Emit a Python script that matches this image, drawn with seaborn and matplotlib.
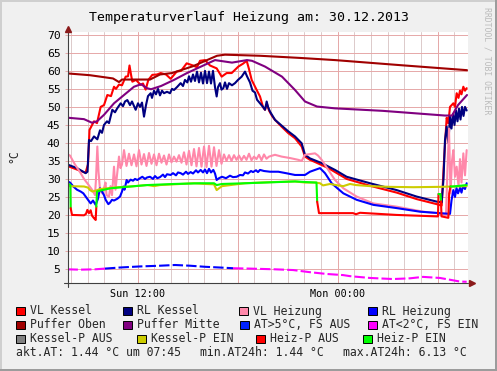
import numpy as np
import pandas as pd
import seaborn as sns
import matplotlib.pyplot as plt
from matplotlib.patches import Rectangle

sns.set_theme(style="white")
plt.rcParams['font.family'] = ['DejaVu Sans Mono', 'DejaVu Sans']

# time axis: hours since Sun 00:00 (24h window, 07:47 Sun -> 07:47 Mon)
x_ticks = [12, 24]
x_ticklabels = ["Sun 12:00", "Mon 00:00"]
y_ticks = list(range(5, 71, 5))

# (hour, °C)
vl_kessel = [(7.79, 33.6), (8.36, 32.6), (8.87, 31.7), (9.02, 34.0), (9.11, 43.6), (9.38, 46.0),
             (9.56, 45.5), (9.78, 50.0), (9.98, 50.5), (10.18, 53.3), (10.40, 53.0), (10.58, 55.6),
             (10.70, 55.0), (10.88, 56.2), (11.06, 56.0), (11.28, 58.4), (11.42, 58.5), (11.51, 61.5),
             (11.60, 59.0), (11.68, 57.0), (11.90, 57.5), (12.18, 56.1), (12.32, 56.5), (12.48, 54.8),
             (12.64, 57.5), (12.88, 58.9), (13.16, 59.0), (13.38, 59.4), (13.70, 59.0), (13.98, 57.8),
             (14.34, 59.8), (14.60, 60.0), (14.94, 62.1), (15.32, 61.5), (15.56, 61.0), (15.74, 62.8),
             (16.04, 63.0), (16.34, 61.5), (16.74, 60.7), (17.04, 58.4), (17.34, 59.4), (17.64, 59.4),
             (18.04, 61.2), (18.32, 62.0), (18.54, 62.8), (18.68, 60.5), (18.84, 57.5), (19.14, 54.7),
             (19.34, 52.9), (19.52, 50.0), (19.64, 49.2), (19.76, 50.8), (19.88, 49.0), (20.06, 47.5),
             (20.24, 46.4), (20.64, 44.5), (21.04, 42.7), (21.44, 41.3), (21.84, 39.0), (22.04, 36.2),
             (22.34, 35.3), (22.64, 34.7), (23.44, 33.0), (24.54, 30.0), (25.94, 28.1), (27.54, 26.2),
             (28.74, 24.4), (29.94, 23.0), (30.24, 22.6), (30.38, 35.0), (30.54, 47.0), (30.64, 45.5),
             (30.74, 50.0), (30.94, 51.0), (31.04, 50.0), (31.14, 53.8), (31.25, 52.5), (31.34, 54.5),
             (31.43, 53.5), (31.54, 55.6), (31.64, 54.5), (31.74, 55.2)]

rl_kessel = [(7.79, 34.0), (8.36, 33.0), (8.88, 31.6), (8.99, 32.0), (9.08, 40.8), (9.20, 40.5),
             (9.38, 41.8), (9.58, 41.0), (9.74, 43.5), (9.86, 42.8), (9.98, 45.0), (10.16, 46.0),
             (10.28, 45.5), (10.48, 49.2), (10.64, 48.5), (10.76, 49.5), (10.98, 51.0), (11.12, 50.2),
             (11.24, 51.5), (11.38, 51.9), (11.54, 50.5), (11.66, 51.5), (11.88, 49.2), (12.02, 51.0),
             (12.14, 50.0), (12.26, 51.2), (12.38, 47.3), (12.50, 50.5), (12.62, 53.0), (12.78, 53.8),
             (12.86, 52.5), (12.98, 54.5), (13.10, 53.5), (13.22, 55.0), (13.34, 53.2), (13.46, 54.5),
             (13.58, 53.8), (13.76, 54.2), (13.94, 53.8), (14.06, 55.0), (14.18, 54.7), (14.36, 55.5),
             (14.58, 56.6), (14.72, 55.8), (14.84, 57.5), (14.98, 56.8), (15.08, 58.5), (15.20, 57.0),
             (15.32, 59.0), (15.44, 57.2), (15.56, 59.8), (15.68, 56.8), (15.80, 59.5), (15.92, 56.5),
             (16.04, 60.0), (16.16, 56.6), (16.28, 59.8), (16.40, 56.5), (16.52, 60.0), (16.64, 55.5),
             (16.74, 52.9), (16.82, 55.5), (16.94, 56.6), (17.03, 54.8), (17.14, 55.2), (17.24, 56.8),
             (17.36, 55.0), (17.48, 56.6), (17.66, 56.0), (17.84, 56.6), (18.02, 57.5), (18.24, 58.4),
             (18.44, 59.8), (18.56, 58.5), (18.74, 56.8), (18.89, 54.5), (19.04, 54.0), (19.16, 52.0),
             (19.34, 51.0), (19.52, 50.0), (19.64, 49.2), (19.74, 51.5), (19.82, 50.0), (19.94, 48.7),
             (20.24, 46.4), (20.64, 44.8), (21.04, 43.2), (21.44, 41.8), (21.84, 39.9), (22.04, 36.7),
             (22.34, 35.7), (23.04, 34.4), (23.84, 32.5), (24.54, 30.6), (25.94, 28.8), (27.54, 26.9),
             (28.74, 25.1), (29.94, 23.7), (30.24, 23.5), (30.35, 30.0), (30.44, 40.8), (30.54, 44.5),
             (30.64, 40.0), (30.74, 47.3), (30.83, 44.0), (30.92, 48.0), (31.01, 45.0), (31.10, 49.0),
             (31.19, 46.0), (31.28, 49.5), (31.37, 46.5), (31.46, 50.0), (31.55, 47.5), (31.64, 50.0),
             (31.74, 49.0)]

vl_heizung = [(7.79, 36.8), (7.94, 36.5), (8.08, 35.3), (8.24, 34.0), (8.58, 31.6), (8.78, 30.0),
              (8.98, 28.8), (9.28, 26.9), (9.44, 25.5), (9.50, 30.0), (9.58, 39.0), (9.65, 32.0),
              (9.74, 27.0), (9.88, 26.0), (9.98, 27.5), (10.07, 29.0), (10.13, 25.5), (10.28, 25.1),
              (10.37, 28.0), (10.46, 25.5), (10.58, 33.4), (10.67, 27.0), (10.76, 31.0), (10.88, 36.2),
              (10.97, 33.0), (11.06, 34.0), (11.18, 38.0), (11.33, 33.6), (11.48, 37.0), (11.63, 33.8),
              (11.78, 36.8), (11.93, 33.5), (12.08, 38.0), (12.23, 34.0), (12.38, 36.9), (12.53, 33.6),
              (12.68, 37.2), (12.83, 34.2), (12.98, 36.8), (13.13, 33.8), (13.28, 37.0), (13.43, 34.5),
              (13.58, 36.5), (13.73, 34.0), (13.88, 36.8), (14.03, 34.6), (14.18, 36.2), (14.33, 34.8),
              (14.48, 36.6), (14.63, 34.5), (14.78, 37.4), (14.93, 34.0), (15.08, 37.8), (15.23, 33.8),
              (15.38, 38.3), (15.53, 33.5), (15.68, 38.6), (15.83, 33.4), (15.98, 39.0), (16.13, 33.3),
              (16.28, 39.2), (16.43, 33.4), (16.58, 38.8), (16.73, 33.6), (16.88, 38.0), (17.03, 34.2),
              (17.18, 36.8), (17.33, 35.0), (17.48, 36.6), (17.63, 35.0), (17.78, 36.6), (17.93, 35.3),
              (18.08, 36.5), (18.23, 35.2), (18.38, 36.4), (18.53, 35.3), (18.68, 37.0), (18.83, 35.2),
              (18.98, 36.2), (19.13, 35.5), (19.28, 36.7), (19.43, 35.2), (19.58, 36.8), (19.73, 35.6),
              (19.88, 36.2), (20.24, 36.7), (20.64, 36.2), (21.14, 35.8), (21.64, 35.3), (21.84, 35.0),
              (22.04, 36.7), (22.64, 37.1), (22.82, 36.5), (23.04, 35.3), (23.44, 32.5), (23.84, 29.7),
              (24.34, 27.4), (25.14, 25.1), (26.14, 23.2), (27.54, 22.3), (29.14, 20.9), (29.94, 20.5),
              (30.20, 20.2), (30.50, 20.0), (30.59, 33.0), (30.68, 44.0), (30.77, 26.0), (30.86, 35.0),
              (30.94, 38.0), (31.04, 30.6), (31.14, 33.4), (31.25, 28.0), (31.34, 35.5), (31.43, 29.0),
              (31.54, 37.1), (31.64, 31.0), (31.74, 38.0)]

rl_heizung = [(7.79, 29.3), (7.94, 29.0), (8.14, 27.9), (8.36, 27.0), (8.58, 26.5), (8.74, 26.0),
              (8.88, 25.1), (9.02, 24.2), (9.18, 23.2), (9.32, 24.0), (9.48, 22.8), (9.62, 24.5),
              (9.74, 27.4), (9.86, 26.5), (9.98, 25.5), (10.08, 24.2), (10.16, 23.6), (10.24, 23.0),
              (10.34, 23.4), (10.46, 24.2), (10.58, 24.0), (10.78, 24.5), (10.94, 25.1), (11.06, 26.5),
              (11.14, 27.9), (11.21, 27.0), (11.34, 29.7), (11.42, 29.0), (11.58, 29.8), (11.72, 29.5),
              (11.84, 30.0), (11.98, 29.7), (12.14, 30.2), (12.28, 30.6), (12.44, 30.0), (12.56, 30.4),
              (12.74, 30.6), (12.92, 30.0), (13.04, 30.8), (13.18, 30.2), (13.34, 30.5), (13.52, 31.2),
              (13.64, 30.5), (13.76, 31.3), (13.98, 31.1), (14.12, 31.6), (14.30, 31.0), (14.42, 31.8),
              (14.58, 31.6), (14.72, 31.2), (14.90, 32.0), (15.02, 31.4), (15.18, 31.9), (15.32, 31.5),
              (15.50, 32.4), (15.62, 31.8), (15.78, 32.5), (15.92, 31.8), (16.04, 32.6), (16.16, 31.6),
              (16.28, 32.8), (16.40, 31.8), (16.54, 32.5), (16.64, 31.5), (16.74, 29.7), (16.88, 30.2),
              (17.06, 30.6), (17.30, 30.2), (17.54, 30.9), (17.72, 30.5), (17.94, 30.6), (18.14, 31.1),
              (18.32, 31.0), (18.44, 31.8), (18.62, 31.5), (18.80, 32.2), (18.92, 31.9), (19.10, 32.4),
              (19.22, 31.9), (19.34, 32.5), (19.58, 32.2), (19.94, 32.0), (20.44, 32.0), (20.90, 31.6),
              (21.44, 31.1), (22.04, 31.1), (22.34, 32.0), (22.64, 32.5), (22.94, 33.0), (23.24, 31.6),
              (23.64, 28.8), (23.96, 27.5), (24.34, 26.0), (25.14, 24.2), (26.14, 22.8), (27.54, 21.9),
              (28.94, 20.9), (30.14, 20.5), (30.74, 20.3), (30.83, 24.0), (30.94, 26.9), (31.04, 25.0),
              (31.13, 27.5), (31.22, 26.0), (31.34, 27.5), (31.43, 26.2), (31.52, 28.0), (31.64, 27.2),
              (31.74, 28.8)]

puffer_oben = [(7.79, 59.3), (9.14, 58.8), (10.52, 57.9), (10.88, 56.9), (11.06, 57.6), (12.74, 57.6),
               (13.34, 59.0), (14.06, 59.4), (15.32, 61.3), (16.16, 63.0), (16.76, 64.2), (17.24, 64.5),
               (19.34, 64.2), (21.74, 63.6), (23.84, 63.0), (27.74, 61.6), (31.76, 60.2)]

puffer_mitte = [(7.79, 47.0), (8.78, 46.6), (9.26, 45.6), (9.56, 46.0), (9.98, 47.8), (10.58, 51.0),
                (11.18, 53.3), (11.78, 55.6), (12.20, 56.3), (12.56, 55.2), (12.80, 54.9), (13.40, 55.8),
                (14.18, 57.5), (14.96, 59.4), (15.80, 61.2), (16.64, 63.0), (17.66, 62.3), (18.56, 63.0),
                (18.86, 62.8), (19.64, 61.2), (20.66, 58.4), (21.44, 54.7), (22.04, 51.5), (22.76, 50.1),
                (23.84, 49.6), (26.72, 48.9), (30.44, 47.6), (30.86, 47.6), (31.22, 50.5), (31.76, 53.3)]

kessel_p = [(7.79, 28.0), (8.78, 27.9), (9.02, 27.6), (9.14, 26.9), (9.28, 26.5), (9.44, 26.7),
            (9.58, 26.9), (9.74, 27.2), (10.18, 27.4), (10.82, 27.7), (11.58, 27.9), (12.58, 28.3),
            (12.98, 28.0), (13.34, 28.3), (14.18, 28.5), (15.38, 28.8), (16.04, 28.6), (16.58, 28.5),
            (16.74, 26.9), (16.88, 27.4), (17.06, 28.0), (18.44, 28.8), (19.94, 29.1), (21.44, 29.3),
            (22.04, 29.0), (22.64, 29.0), (22.94, 28.8), (23.12, 28.2), (23.54, 28.6), (24.02, 28.2),
            (24.34, 28.0), (24.74, 28.6), (25.10, 28.3), (25.94, 28.0), (27.14, 27.8), (28.54, 27.7),
            (30.14, 27.8), (31.74, 28.0)]

# (hour, °C, pump on)
heiz_p = [(7.79, 28.6, 1), (7.96, 28.4, 1), (7.98, 21.9, 0), (8.06, 20.0, 0), (8.78, 19.9, 0),
          (8.90, 20.3, 0), (8.98, 21.4, 0), (9.08, 20.5, 0), (9.18, 21.3, 0), (9.26, 19.8, 0),
          (9.38, 19.1, 0), (9.48, 18.6, 0), (9.52, 22.3, 1), (9.56, 26.5, 1), (9.88, 26.9, 1),
          (10.38, 27.4, 1), (11.58, 27.9, 1), (12.58, 28.3, 1), (14.18, 28.6, 1), (15.74, 28.8, 1),
          (16.58, 28.8, 1), (16.74, 28.3, 1), (17.06, 28.6, 1), (18.44, 28.8, 1), (21.44, 29.3, 1),
          (22.64, 29.0, 1), (22.73, 29.0, 1), (22.77, 23.7, 0), (22.88, 20.5, 0), (24.92, 20.5, 0),
          (25.10, 20.2, 0), (25.34, 20.6, 0), (27.54, 20.0, 0), (29.94, 19.6, 0), (30.02, 19.6, 0),
          (30.05, 25.8, 1), (30.17, 25.8, 1), (30.20, 23.8, 0), (30.23, 19.6, 0), (30.64, 19.2, 0),
          (30.69, 26.0, 0), (30.77, 27.9, 1), (30.92, 27.9, 1), (31.74, 28.3, 1)]

# (hour, °C, above 5 °C)
aussen = [(7.79, 4.9, 0), (8.54, 4.8, 0), (9.44, 4.9, 0), (10.04, 5.1, 1), (10.94, 5.4, 1),
          (12.14, 5.7, 1), (13.34, 5.9, 1), (14.24, 6.1, 1), (15.14, 5.9, 1), (16.04, 5.6, 1),
          (16.94, 5.4, 1), (17.72, 5.2, 0), (18.74, 5.1, 0), (20.24, 4.9, 0), (21.32, 4.7, 0),
          (22.34, 4.1, 0), (23.36, 3.6, 0), (24.32, 3.3, 0), (24.74, 3.0, 0), (25.94, 2.5, 0),
          (27.32, 2.2, 0), (28.34, 2.4, 0), (29.12, 2.8, 0), (30.14, 2.5, 0), (30.86, 1.9, 0),
          (31.34, 1.5, 0), (31.74, 1.44, 0)]

legend_labels = ["VL Kessel", "RL Kessel", "VL Heizung", "RL Heizung",
                 "Puffer Oben", "Puffer Mitte", "AT>5°C, FS AUS", "AT<2°C, FS EIN",
                 "Kessel-P AUS", "Kessel-P EIN", "Heiz-P AUS", "Heiz-P EIN"]
legend_colors = ["#FF0000", "#000080", "#FF88AA", "#0000FF",
                 "#A00000", "#800080", "#0022FF", "#FF00FF",
                 "#808080", "#CCCC00", "#FF0000", "#00FF00"]
summary = ["akt.AT: 1.44 °C um 07:45", "min.AT24h: 1.44 °C", "max.AT24h: 6.13 °C"]

W, H = 497, 371
LW = 1.5


def fx(px):
    return px / W


def fy(py):
    return 1 - py / H


def draw(ax, pts, color, **kw):
    df = pd.DataFrame(pts, columns=["t", "v"])
    sns.lineplot(data=df, x="t", y="v", color=color, lw=LW, estimator=None,
                 sort=False, ax=ax, zorder=3, **kw)


def draw_states(ax, pts, colors, **kw):
    t = [p[0] for p in pts]
    v = [p[1] for p in pts]
    s = [p[2] for p in pts]
    start = 0
    for i in range(1, len(t)):
        if s[i] != s[start] or i == len(t) - 1:
            sns.lineplot(x=t[start:i + 1], y=v[start:i + 1], color=colors[s[start]],
                         lw=LW, estimator=None, sort=False, ax=ax, zorder=3, **kw)
            start = i


fig = plt.figure(figsize=(W / 100, H / 100), dpi=100, facecolor="#F0F0F0")
ax = fig.add_axes([fx(67.5), fy(283), 400 / W, 251 / H])
ax.set_facecolor("white")

# grid
for h in range(8, 32):
    ax.axvline(h, color="#DCCACA", lw=0.7, zorder=1)
for h in [12, 18, 24, 30]:
    ax.axvline(h, color="#E6A8A8", lw=0.7, zorder=1)
for y in y_ticks:
    ax.axhline(y, color="#E6A8A8", lw=0.7, zorder=1)

draw(ax, vl_kessel, "#FF0000")
draw(ax, rl_kessel, "#000080")
draw(ax, vl_heizung, "#FF88AA")
draw(ax, rl_heizung, "#0000FF")
draw(ax, puffer_oben, "#A00000")
draw(ax, puffer_mitte, "#800080")
draw_states(ax, aussen, {0: "#FF00FF", 1: "#0000FF"}, linestyle=(0, (5, 1.5)))
draw(ax, kessel_p, "#CCCC00")
draw_states(ax, heiz_p, {0: "#FF0000", 1: "#00FF00"})

ax.set_xlim(7.79, 31.79)
ax.set_ylim(1.1, 70.8)
ax.set_xticks(x_ticks)
ax.set_xticklabels(x_ticklabels)
ax.set_yticks(y_ticks)
ax.set_yticklabels([str(y) for y in y_ticks])
ax.set_xlabel("")
ax.set_ylabel("")
ax.tick_params(axis="y", length=2, width=0.7, color="#E6A8A8", pad=3, labelsize=8.2,
               left=True, labelcolor="black")
ax.tick_params(axis="x", length=0, pad=4.5, labelsize=7.3, labelcolor="black")
for sp in ax.spines.values():
    sp.set_visible(False)

# axes with arrows
ax.plot([0, 0], [-0.016, 1.0], transform=ax.transAxes, color="#404040", lw=0.8, clip_on=False, zorder=5)
ax.plot([-0.01, 1.0], [0, 0], transform=ax.transAxes, color="#404040", lw=0.8, clip_on=False, zorder=5)
ax.plot([0], [1.01], marker="^", ms=4.5, color="#8B1A1A", transform=ax.transAxes, clip_on=False, zorder=6)
ax.plot([1.01], [0], marker=">", ms=4.5, color="#8B1A1A", transform=ax.transAxes, clip_on=False, zorder=6)

# texts
fig.text(fx(249), fy(17), "Temperaturverlauf Heizung am: 30.12.2013", ha="center", va="center",
         fontsize=9.5, color="black")
fig.text(fx(14), fy(156), "°C", rotation=90, ha="center", va="center", fontsize=8.3)
fig.text(fx(487.5), fy(7), "RRDTOOL / TOBI OETIKER", rotation=270, ha="center", va="top",
         fontsize=5.9, color="#BBBBBB")

# legend
sq_x = [[16, 123, 239, 368], [16, 123, 240, 368], [16, 137, 256, 363]]
row_y = [311, 325, 339]
for r in range(3):
    for c in range(4):
        k = r * 4 + c
        x0 = sq_x[r][c]
        fig.add_artist(Rectangle((fx(x0), fy(row_y[r] + 4)), 9 / W, 8 / H, transform=fig.transFigure,
                                 facecolor=legend_colors[k], edgecolor="black", lw=0.7))
        fig.text(fx(x0 + 14), fy(row_y[r]), legend_labels[k], ha="left", va="center", fontsize=8.3)

for x0, s in zip([16, 200, 342.7], summary):
    fig.text(fx(x0), fy(353), s, ha="left", va="center", fontsize=8.3)

# 3d frame
fig.add_artist(Rectangle((0, 0), fx(2), 1, transform=fig.transFigure, color="#CFCFCF", lw=0))
fig.add_artist(Rectangle((0, fy(2)), 1, 2 / H, transform=fig.transFigure, color="#CFCFCF", lw=0))
fig.add_artist(Rectangle((fx(495), 0), fx(2), 1, transform=fig.transFigure, color="#9C9C9C", lw=0))
fig.add_artist(Rectangle((0, 0), 1, 2.5 / H, transform=fig.transFigure, color="#9C9C9C", lw=0))

fig.savefig("out.png", dpi=100, facecolor=fig.get_facecolor())
